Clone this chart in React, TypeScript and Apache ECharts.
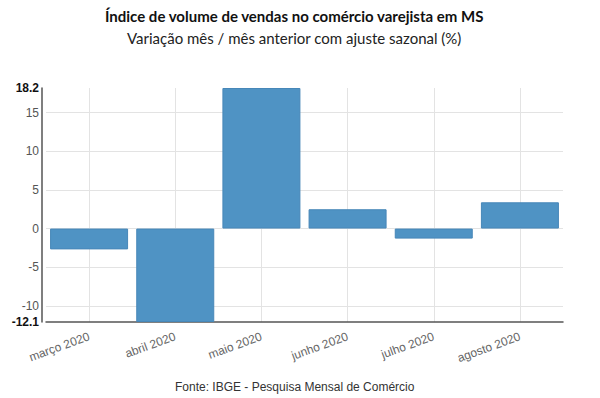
import React, { useEffect, useRef } from "react";
import * as echarts from "echarts";

const categories = ["março 2020", "abril 2020", "maio 2020", "junho 2020", "julho 2020", "agosto 2020"];
const values = [-2.7, -12.1, 18.2, 2.5, -1.3, 3.4];
const yMin = -12.1;
const yMax = 18.2;
const titleText = "Índice de volume de vendas no comércio varejista em MS";
const subtitleText = "Variação mês / mês anterior com ajuste sazonal (%)";
const sourceText = "Fonte: IBGE - Pesquisa Mensal de Comércio";

export default function App() {
  const ref = useRef<HTMLDivElement>(null);
  useEffect(() => {
    document.body.style.margin = "0";
    const chart = echarts.init(ref.current!, null, { renderer: "svg" });
    chart.setOption({
      animation: false,
      backgroundColor: "#ffffff",
      title: [
        {
          text: titleText,
          left: 100,
          top: 3,
          textStyle: { fontFamily: "Lato", fontSize: 15, fontWeight: "bold", color: "#111" },
        },
        {
          text: subtitleText,
          left: 122,
          top: 25,
          textStyle: { fontFamily: "Lato", fontSize: 15, fontWeight: "normal", color: "#222" },
        },
        {
          text: sourceText,
          left: 170,
          top: 376,
          textStyle: { fontFamily: "Liberation Sans", fontSize: 12, fontWeight: "normal", color: "#333" },
        },
      ],
      grid: { left: 46, right: 37, top: 88, bottom: 76, containLabel: false },
      xAxis: {
        type: "category",
        data: categories,
        axisLine: { show: true, onZero: false, lineStyle: { color: "#555", width: 1.5 } },
        axisTick: { show: false },
        splitLine: { show: true, alignWithLabel: true, lineStyle: { color: "#e3e3e3", width: 1 } },
        axisLabel: {
          rotate: 20,
          interval: 0,
          margin: 14,
          fontFamily: "Liberation Sans",
          fontSize: 12,
          color: "#666",
        },
      },
      yAxis: {
        type: "value",
        min: yMin,
        max: yMax,
        splitNumber: 5,
        offset: 4,
        axisLine: { show: true, lineStyle: { color: "#555", width: 1.5 } },
        axisTick: { show: false },
        splitLine: { show: true, showMaxLine: false, showMinLine: false, lineStyle: { color: "#e3e3e3", width: 1 } },
        axisLabel: {
          showMinLabel: true,
          showMaxLabel: true,
          margin: 3,
          fontFamily: "Liberation Sans",
          fontSize: 12,
          color: "#555",
          formatter: (v: number) => (Math.abs(v - yMin) < 1e-6 || Math.abs(v - yMax) < 1e-6 ? `{b|${v}}` : `${v}`),
          rich: {
            b: { fontFamily: "Liberation Sans", fontSize: 12, fontWeight: "bold", color: "#111" },
          },
        },
      },
      series: [
        {
          type: "bar",
          data: values,
          barWidth: 78,
          itemStyle: { color: "#4f93c4", borderColor: "#4787b8", borderWidth: 1 },
        },
      ],
    });
    return () => chart.dispose();
  }, []);
  return <div ref={ref} style={{ width: 600, height: 398 }} />;
}
